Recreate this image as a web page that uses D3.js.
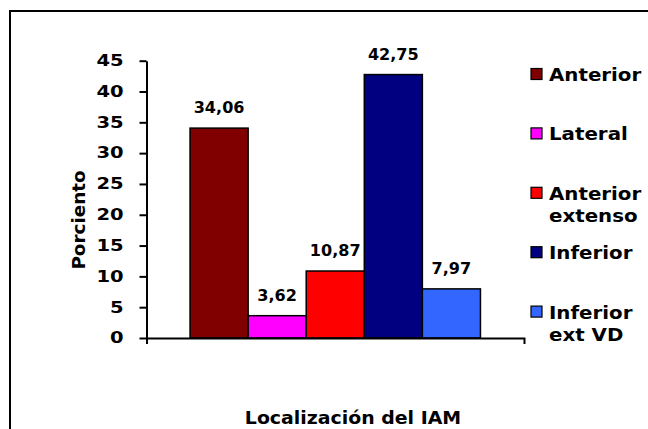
<!DOCTYPE html>
<html>
<head>
<meta charset="utf-8">
<script src="https://cdn.jsdelivr.net/npm/d3@7"></script>
<style>
  body { margin: 0; background: #fff; }
  text { font-family: "DejaVu Sans", Verdana, sans-serif; font-weight: bold; fill: #000; }
</style>
</head>
<body>
<svg width="648" height="429"></svg>
<script>
// data
var categories = ["Anterior", "Lateral", "Anterior extenso", "Inferior", "Inferior ext VD"];
var legendLines = [["Anterior"], ["Lateral"], ["Anterior", "extenso"], ["Inferior"], ["Inferior", "ext VD"]];
var values = [34.06, 3.62, 10.87, 42.75, 7.97];
var valueLabels = ["34,06", "3,62", "10,87", "42,75", "7,97"];
var yTicks = [0, 5, 10, 15, 20, 25, 30, 35, 40, 45];
var colors = ["#800000", "#ff00ff", "#ff0000", "#000080", "#3366ff"];

var pic = d3.select("svg");

// stretch text sideways, the original is wide
const stretch = function(sel, k){
  sel.each(function(){
    var w = this.getComputedTextLength();
    d3.select(this).attr("textLength", w * k).attr("lengthAdjust", "spacingAndGlyphs");
  });
}

// frame
pic.append("rect")
  .attr("x", 10).attr("y", 11).attr("width", 680).attr("height", 460)
  .attr("fill", "none").attr("stroke", "#000").attr("stroke-width", 2);

// scales
var x = d3.scaleBand().domain(categories).range([146.5, 524]).paddingInner(0).paddingOuter(0.75);
var y = d3.scaleLinear().domain([0, 45]).range([338, 60.7]);
var color = d3.scaleOrdinal().domain(categories).range(colors);

// bars
pic.append("g").selectAll("rect").data(values).enter()
  .append("rect")
  .attr("x", function(d, i){ return x(categories[i]); })
  .attr("y", function(d){ return y(d); })
  .attr("width", x.bandwidth())
  .attr("height", function(d){ return y(0) - y(d); })
  .attr("fill", function(d, i){ return color(categories[i]); })
  .attr("stroke", "#000").attr("stroke-width", 1.5);

// value labels
var vl = pic.append("g").selectAll("text").data(values).enter()
  .append("text")
  .attr("x", function(d, i){ return x(categories[i]) + x.bandwidth() / 2; })
  .attr("y", function(d){ return y(d) - 15; })
  .attr("text-anchor", "middle")
  .attr("font-size", 15)
  .text(function(d, i){ return valueLabels[i]; });
stretch(vl, 1.07);

// y axis
var yAxis = pic.append("g").attr("transform", "translate(146.5,0)")
  .call(d3.axisLeft(y).tickValues(yTicks).tickSize(7).tickSizeOuter(0).tickPadding(16)
    .tickFormat(function(d){ return d; }));
yAxis.selectAll("path,line").attr("stroke", "#000").attr("stroke-width", 2);
yAxis.selectAll("text").attr("font-size", 15).attr("font-family", null).attr("fill", "#000");
stretch(yAxis.selectAll("text"), 1.3);

// x axis
var xAxis = pic.append("g").attr("transform", "translate(0,338)")
  .call(d3.axisBottom(x).tickSize(0).tickSizeOuter(6).tickFormat(""));
xAxis.selectAll("path").attr("stroke", "#000").attr("stroke-width", 2);

// axis titles
var yt = pic.append("text")
  .attr("transform", "translate(85,220) rotate(-90)")
  .attr("text-anchor", "middle")
  .attr("font-size", 18)
  .text("Porciento");
stretch(yt, 1.02);

var xt = pic.append("text")
  .attr("x", 353).attr("y", 424)
  .attr("text-anchor", "middle")
  .attr("font-size", 18)
  .text("Localización del IAM");
stretch(xt, 1.05);

// legend
var leg = pic.append("g").selectAll("g").data(categories).enter()
  .append("g")
  .attr("transform", function(d, i){ return "translate(531," + (74 + i * 59.4) + ")"; });
leg.append("rect")
  .attr("x", 0).attr("y", -5.5).attr("width", 11).attr("height", 11)
  .attr("fill", function(d){ return color(d); })
  .attr("stroke", "#000").attr("stroke-width", 1.2);
var lt = leg.selectAll("text").data(function(d, i){ return legendLines[i]; }).enter()
  .append("text")
  .attr("x", 18)
  .attr("y", function(d, j){ return 7 + j * 22; })
  .attr("font-size", 18)
  .text(function(d){ return d; });
stretch(lt, 1.1);
</script>
</body>
</html>
